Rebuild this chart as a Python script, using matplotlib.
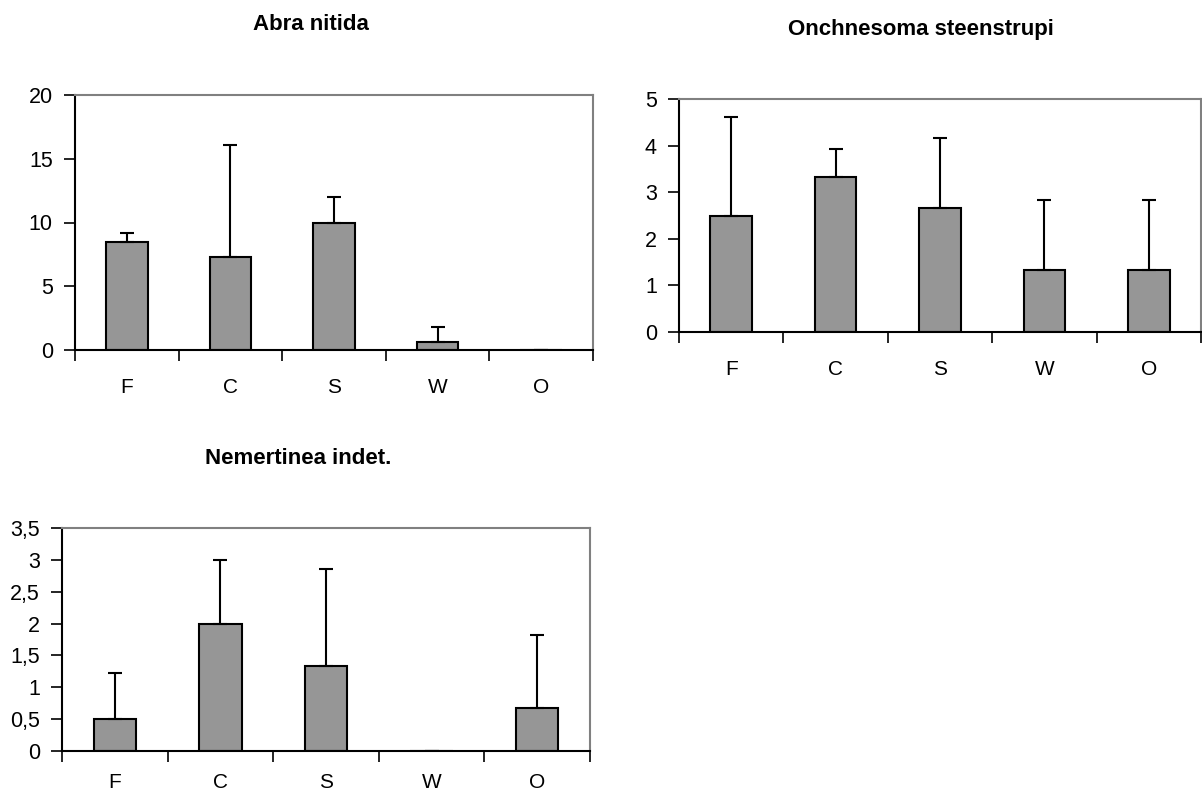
import numpy as np
import matplotlib.pyplot as plt
from matplotlib.ticker import FuncFormatter

plt.rcParams['font.family'] = ['Liberation Sans', 'DejaVu Sans']

sites = ["F", "C", "S", "W", "O"]

abra_mean = [8.5, 7.3, 10.0, 0.6, 0.0]
abra_err = [0.7, 8.8, 2.0, 1.2, 0.0]

onch_mean = [2.48, 3.33, 2.67, 1.33, 1.33]
onch_err = [2.14, 0.59, 1.50, 1.51, 1.51]

nem_mean = [0.5, 2.0, 1.33, 0.0, 0.67]
nem_err = [0.72, 1.0, 1.52, 0.0, 1.15]

W, H = 1202, 794
fig = plt.figure(figsize=(W / 100, H / 100), dpi=100)


def px_axes(left, right, top, bottom):
    return fig.add_axes([left / W, 1 - bottom / H, (right - left) / W, (bottom - top) / H])


def comma(v, pos):
    s = ("%g" % v)
    return s.replace(".", ",")


def bar_panel(ax, mean, err, ymax, step, title, title_xy, xpad=19):
    x = np.arange(len(sites))
    ax.bar(x, mean, width=0.4, color="#969696", edgecolor="black", linewidth=1.5, zorder=2)
    ax.errorbar(x, mean, yerr=[np.zeros(len(err)), err], fmt="none", ecolor="black",
                elinewidth=1.5, capsize=5, capthick=1.5, zorder=3)
    ax.set_xlim(-0.5, len(sites) - 0.5)
    ax.set_ylim(0, ymax)
    ax.set_yticks(np.arange(0, ymax + step / 2, step))
    ax.yaxis.set_major_formatter(FuncFormatter(comma))
    # category boundaries as ticks, labels in the middle
    ax.set_xticks(np.arange(-0.5, len(sites), 1.0))
    ax.set_xticklabels([])
    ax.set_xticks(x, minor=True)
    ax.set_xticklabels(sites, minor=True)
    ax.tick_params(axis="x", which="minor", length=0, pad=xpad, labelsize=15)
    ax.tick_params(axis="x", which="major", length=8, width=1.2, direction="out")
    ax.tick_params(axis="y", length=8, width=1.2, direction="out", pad=8, labelsize=15.5)
    for s in ["left", "bottom"]:
        ax.spines[s].set_color("black")
        ax.spines[s].set_linewidth(1.5)
    for s in ["top", "right"]:
        ax.spines[s].set_color("#808080")
        ax.spines[s].set_linewidth(1.5)
    fig.text(title_xy[0] / W, 1 - title_xy[1] / H, title, ha="center", va="baseline",
             fontsize=16, fontweight="bold")


ax1 = px_axes(75, 593, 95, 350)
bar_panel(ax1, abra_mean, abra_err, 20, 5, "Abra nitida", (311, 30), xpad=20)

ax2 = px_axes(679, 1201, 99, 332)
bar_panel(ax2, onch_mean, onch_err, 5, 1, "Onchnesoma steenstrupi", (921, 35), xpad=20)

ax3 = px_axes(62, 590, 528, 751)
bar_panel(ax3, nem_mean, nem_err, 3.5, 0.5, "Nemertinea indet.", (298, 464), xpad=16)

fig.savefig("out.png", dpi=100)
